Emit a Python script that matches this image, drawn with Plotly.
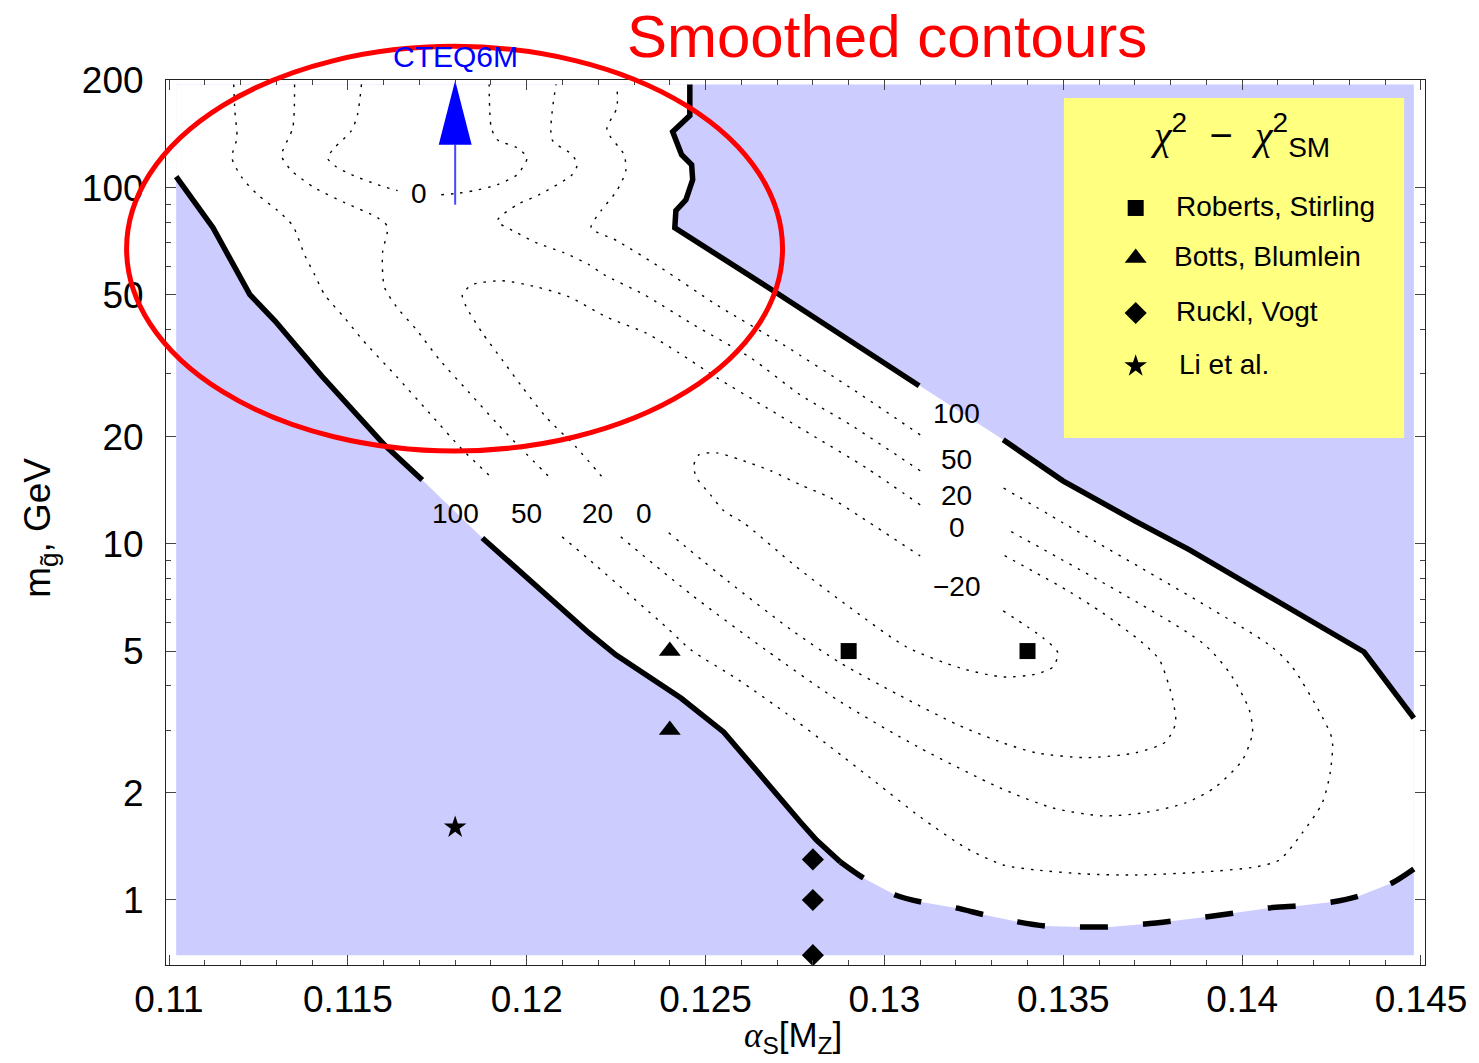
import numpy as np
import plotly.graph_objects as go

# ---------------- data ----------------
# grid domain of the fit (alpha_s, gluino mass in GeV)
alpha_min, alpha_max = 0.1102, 0.1448
m_min, m_max = 0.70, 195.0

# chi^2 - chi^2_SM = 100 boundary, left branch (split at its label)
c100_left_a1 = [0.1102, 0.11123, 0.11226, 0.11296, 0.11427, 0.11602, 0.11708]
c100_left_m1 = [107.4, 77.2, 50.1, 42.3, 29.6, 18.97, 15.12]
c100_left_a2 = [0.11876, 0.12174, 0.12249, 0.12300, 0.12431, 0.12551, 0.12598, 0.12682, 0.12765, 0.12810, 0.12877]
c100_left_m2 = [10.39, 5.62, 4.88, 4.51, 3.69, 2.96, 2.60, 2.08, 1.656, 1.474, 1.278]

# chi^2 - chi^2_SM = 100 boundary, right branch (split at its label)
c100_right_a1 = [0.12456, 0.12456, 0.12408, 0.12433, 0.12461, 0.12464, 0.12445, 0.12417, 0.12414, 0.12475, 0.12551, 0.12698, 0.13097]
c100_right_m1 = [195.0, 159.4, 143.7, 123.8, 116.0, 105.3, 92.5, 86.2, 77.2, 70.5, 63.6, 50.7, 27.8]
c100_right_a2 = [0.13332, 0.13499, 0.13700, 0.13853, 0.14341, 0.1448]
c100_right_m2 = [19.6, 15.03, 11.60, 9.62, 4.97, 3.24]

# lower edge of the scanned region
edge_a = [0.12877, 0.12941, 0.13030, 0.13103, 0.13200, 0.13281, 0.13373, 0.13451, 0.13549, 0.13630,
          0.13728, 0.13806, 0.13898, 0.13979, 0.14076, 0.14154, 0.14252, 0.14327, 0.14419, 0.1448]
edge_m = [1.278, 1.153, 1.033, 0.987, 0.950, 0.908, 0.868, 0.845, 0.840, 0.840,
          0.856, 0.873, 0.896, 0.919, 0.950, 0.962, 0.987, 1.026, 1.116, 1.222]

# level 50
c50_a1 = [0.11181, 0.11184, 0.11190, 0.11176, 0.11204, 0.11248, 0.11304, 0.11346, 0.11379, 0.11407,
          0.11435, 0.11491, 0.11541, 0.11636, 0.11728, 0.11820, 0.11909]
c50_m1 = [195.0, 164.6, 138.2, 121.4, 106.7, 95.6, 86.2, 78.2, 64.8, 57.0,
          50.1, 43.1, 37.4, 29.5, 23.3, 18.4, 15.12]
c50_a2 = [0.12099, 0.12169, 0.12389, 0.12459, 0.12592, 0.12724, 0.12849, 0.12975, 0.13100, 0.13228,
          0.13332, 0.13424, 0.13563, 0.13702, 0.13889, 0.14037, 0.14104, 0.14168, 0.14224, 0.14246,
          0.14252, 0.14224, 0.14140, 0.14076, 0.13499, 0.13332]
c50_m2 = [10.46, 9.13, 5.85, 5.04, 4.15, 3.35, 2.69, 2.145, 1.711, 1.400,
          1.254, 1.214, 1.183, 1.175, 1.198, 1.238, 1.295, 1.542, 1.873, 2.274,
          2.815, 3.266, 4.51, 5.20, 11.46, 14.37]
c50_a3 = [0.13100, 0.12905, 0.12718, 0.12531, 0.12375, 0.12252, 0.12180, 0.12208, 0.12252, 0.12277,
          0.12272, 0.12224, 0.12252, 0.12252]
c50_m3 = [20.24, 27.43, 36.2, 46.9, 59.6, 71.0, 77.2, 86.2, 98.1, 111.6,
          123.8, 145.5, 167.8, 195.0]

# level 20
c20_a1 = [0.11351, 0.11346, 0.11315, 0.11343, 0.11407, 0.11491, 0.11583, 0.11611, 0.11597, 0.11602,
          0.11636, 0.11692, 0.11756, 0.11839, 0.11915, 0.11987, 0.12071]
c20_m1 = [195.0, 147.4, 123.0, 111.6, 100.0, 90.8, 82.4, 77.7, 65.7, 52.7,
          46.3, 39.9, 32.9, 26.6, 21.9, 18.4, 15.12]
c20_a2 = [0.12263, 0.12461, 0.12668, 0.12877, 0.13094, 0.13323, 0.13471, 0.13610, 0.13722, 0.13842,
          0.13926, 0.14001, 0.14029, 0.14020, 0.13965, 0.13889, 0.13345]
c20_m2 = [10.46, 7.19, 5.04, 3.60, 2.69, 2.064, 1.813, 1.722, 1.756, 1.873,
          2.077, 2.474, 2.945, 3.418, 4.34, 5.27, 10.95]
c20_a3 = [0.13100, 0.12905, 0.12765, 0.12626, 0.12467, 0.12328, 0.12216, 0.12174, 0.12104, 0.12026,
          0.11973, 0.11918, 0.11973, 0.12035, 0.12127, 0.12141, 0.12127, 0.12071, 0.12082]
c20_m3 = [16.04, 21.6, 26.2, 33.3, 41.2, 50.1, 57.0, 60.8, 65.7, 70.1,
          74.7, 80.8, 89.6, 95.6, 108.8, 116.0, 123.8, 136.4, 195.0]

# level 0, closed valley contour
c0_a1 = [0.12397, 0.12565, 0.12740, 0.12877, 0.13039, 0.13206, 0.13332, 0.13424, 0.13563, 0.13702,
         0.13786, 0.13814, 0.13806, 0.13769, 0.13722, 0.13610, 0.13518, 0.13424, 0.13332]
c0_m1 = [10.74, 7.82, 5.73, 4.63, 3.77, 3.10, 2.76, 2.59, 2.51, 2.59,
         2.78, 3.14, 3.65, 4.72, 5.27, 6.40, 7.33, 8.29, 9.31]
c0_a2 = [0.13100, 0.12949, 0.12810, 0.12671, 0.12531, 0.12425, 0.12333, 0.12222, 0.12118, 0.12026,
         0.11931, 0.11848, 0.11820, 0.11831, 0.11876, 0.11931, 0.11987, 0.12054, 0.12138, 0.12222]
c0_m2 = [12.87, 16.35, 19.86, 24.1, 29.3, 34.4, 39.1, 43.4, 49.4, 52.7,
         54.8, 53.4, 50.1, 46.3, 39.1, 32.9, 27.6, 22.7, 18.7, 14.94]

# level 0, heavy-gluino pocket
c0top_a1 = [0.11538, 0.11527, 0.11510, 0.11463, 0.11443, 0.11463, 0.11510, 0.11583, 0.11639]
c0top_m1 = [195.0, 160.4, 144.6, 129.5, 121.4, 115.3, 108.8, 102.0, 98.1]
c0top_a2 = [0.11761, 0.11798, 0.11853, 0.11918, 0.11973, 0.12001, 0.11973, 0.11918, 0.11901, 0.11895]
c0top_m2 = [95.6, 96.2, 98.1, 102.0, 108.8, 121.4, 129.5, 136.4, 147.4, 195.0]

# level -20, closed
cm20_a = [0.13332, 0.13443, 0.13485, 0.13471, 0.13424, 0.13332, 0.13212, 0.13061, 0.12905, 0.12754,
          0.12606, 0.12551, 0.12514, 0.12475, 0.12467, 0.12481, 0.12531, 0.12598, 0.12682, 0.12765,
          0.12849, 0.12933, 0.13100]
cm20_m = [6.48, 5.45, 4.94, 4.51, 4.31, 4.23, 4.48, 5.14, 6.61, 8.62,
          11.46, 12.38, 13.73, 15.32, 16.56, 17.78, 18.01, 17.22, 16.04, 14.65,
          13.47, 11.91, 9.25]

# contour labels: text, alpha, mass
label_text = ["100", "50", "20", "0", "100", "50", "20", "0", "\u221220", "0"]
label_a = [0.11802, 0.12000, 0.12199, 0.12328, 0.13202, 0.13202, 0.13202, 0.13202, 0.13202, 0.11700]
label_m = [12.18, 12.18, 12.18, 12.18, 23.3, 17.2, 13.7, 11.09, 7.57, 96.2]

# earlier determinations
roberts_a, roberts_m = [0.129, 0.134], [5.0, 5.0]
botts_a, botts_m = [0.124, 0.124], [5.0, 3.0]
ruckl_a, ruckl_m = [0.128, 0.128, 0.128], [1.3, 1.0, 0.7]
li_a, li_m = [0.118], [1.6]

# CTEQ6M marker arrow
cteq_a, cteq_m_from, cteq_m_to = 0.118, 89.6, 200.0

x_tickvals = [0.11, 0.115, 0.12, 0.125, 0.13, 0.135, 0.14, 0.145]
x_ticktext = ["0.11", "0.115", "0.12", "0.125", "0.13", "0.135", "0.14", "0.145"]
y_tickvals = [1, 2, 5, 10, 20, 50, 100, 200]
y_ticktext = ["1", "2", "5", "10", "20", "50", "100", "200"]
y_minorvals = [3, 4, 6, 7, 8, 9, 30, 40, 60, 70, 80, 90]

# ---------------- style ----------------
FONT = "Liberation Sans, Arial, Helvetica, sans-serif"
SERIF = "'Liberation Serif', 'Times New Roman', serif"
PURPLE = "#CCCCFF"
YELLOW = "#FFFF80"
DOTTED = "2.5px,7px"
HEAD_LEN_DEC = 0.18
HEAD_HALF_W = 0.00046

fig = go.Figure()


def line(a, m, width=1.4, dash=DOTTED, shape="spline", color="black", smoothing=0.7):
    fig.add_trace(go.Scatter(
        x=a, y=m, mode="lines",
        line=dict(color=color, width=width, dash=dash, shape=shape,
                  smoothing=smoothing if shape == "spline" else None),
        hoverinfo="skip", showlegend=False))


# excluded area covers the whole scanned domain ...
fig.add_trace(go.Scatter(
    x=[alpha_min, alpha_max, alpha_max, alpha_min, alpha_min],
    y=[m_min, m_min, m_max, m_max, m_min],
    mode="lines", fill="toself", fillcolor=PURPLE, line=dict(width=0),
    hoverinfo="skip", showlegend=False))

# ... and the allowed band (inside the 100 contour) is white
allowed_a = ([alpha_min] + c100_right_a1 + c100_right_a2 + edge_a[::-1]
             + c100_left_a2[::-1] + c100_left_a1[::-1] + [alpha_min])
allowed_m = ([m_max] + c100_right_m1 + c100_right_m2 + edge_m[::-1]
             + c100_left_m2[::-1] + c100_left_m1[::-1] + [m_max])
fig.add_trace(go.Scatter(
    x=allowed_a, y=allowed_m, mode="lines", fill="toself", fillcolor="white",
    line=dict(width=0), hoverinfo="skip", showlegend=False))

# dotted contour levels
for a, m in [(c50_a1, c50_m1), (c50_a2, c50_m2), (c50_a3, c50_m3),
             (c20_a1, c20_m1), (c20_a2, c20_m2), (c20_a3, c20_m3),
             (c0_a1, c0_m1), (c0_a2, c0_m2),
             (c0top_a1, c0top_m1), (c0top_a2, c0top_m2),
             (cm20_a, cm20_m)]:
    line(a, m)

# thick 100 boundary
for a, m in [(c100_left_a1, c100_left_m1), (c100_left_a2, c100_left_m2),
             (c100_right_a1, c100_right_m1), (c100_right_a2, c100_right_m2)]:
    line(a, m, width=5.5, dash="solid", shape="linear")

# dashed edge of the scan
line(edge_a, edge_m, width=5.5, dash="28px,35px", shape="spline", smoothing=0.8)

# measurements
mk = dict(color="black", line=dict(width=0))
fig.add_trace(go.Scatter(x=roberts_a, y=roberts_m, mode="markers", cliponaxis=False,
                         marker=dict(symbol="square", size=16, **mk), showlegend=False))
fig.add_trace(go.Scatter(x=botts_a, y=botts_m, mode="markers", cliponaxis=False,
                         marker=dict(symbol="triangle-up", size=19, **mk), showlegend=False))
fig.add_trace(go.Scatter(x=ruckl_a, y=ruckl_m, mode="markers", cliponaxis=False,
                         marker=dict(symbol="diamond", size=17, **mk), showlegend=False))
fig.add_trace(go.Scatter(x=li_a, y=li_m, mode="markers", cliponaxis=False,
                         marker=dict(symbol="star", size=17, **mk), showlegend=False))

# CTEQ6M arrow
head_base = cteq_m_to / 10 ** HEAD_LEN_DEC
fig.add_trace(go.Scatter(x=[cteq_a, cteq_a], y=[cteq_m_from, head_base], mode="lines",
                         line=dict(color="#4747FF", width=2), hoverinfo="skip", showlegend=False))
fig.add_trace(go.Scatter(x=[cteq_a - HEAD_HALF_W, cteq_a + HEAD_HALF_W, cteq_a, cteq_a - HEAD_HALF_W],
                         y=[head_base, head_base, cteq_m_to, head_base], mode="lines",
                         fill="toself", fillcolor="#0000FF", line=dict(width=0, color="#0000FF"),
                         cliponaxis=False, hoverinfo="skip", showlegend=False))

# legend panel on an overlay with unit coordinates
LX0, LX1, LY0, LY1 = 0.7132, 0.9834, 0.5955, 0.9797
fig.add_trace(go.Scatter(x=[LX0, LX1, LX1, LX0, LX0], y=[LY0, LY0, LY1, LY1, LY0],
                         xaxis="x2", yaxis="y2", mode="lines", fill="toself",
                         fillcolor=YELLOW, line=dict(width=0), hoverinfo="skip", showlegend=False))
leg_names = ["Roberts, Stirling", "Botts, Blumlein", "Ruckl, Vogt", "Li et al."]
leg_symbols = ["square", "triangle-up", "diamond", "star"]
leg_sizes = [16, 19, 17, 17]
leg_y = [0.8554, 0.7989, 0.7367, 0.6768]
leg_text_x = [0.8003, 0.7987, 0.8003, 0.8027]
for sym, sz, yy in zip(leg_symbols, leg_sizes, leg_y):
    fig.add_trace(go.Scatter(x=[0.7702], y=[yy], xaxis="x2", yaxis="y2", mode="markers",
                             marker=dict(symbol=sym, size=sz, **mk), hoverinfo="skip",
                             showlegend=False))

annotations = []
for name, xx, yy in zip(leg_names, leg_text_x, leg_y):
    annotations.append(dict(text=name, x=xx, y=yy + 0.002, xref="paper", yref="paper",
                            xanchor="left", yanchor="middle", showarrow=False,
                            font=dict(family=FONT, size=28, color="black")))

chi = '<span style="font-family:%s"><i>\u03c7</i></span>' % SERIF
annotations.append(dict(
    text=chi + "<sup>2</sup>\u00a0\u00a0\u2212\u00a0\u00a0" + chi + "<sup>2</sup><sub>SM</sub>",
    x=0.8534, y=0.9379, xref="paper", yref="paper", xanchor="center", yanchor="middle",
    showarrow=False, font=dict(family=FONT, size=40, color="black")))

# contour level labels
for t, a, m in zip(label_text, label_a, label_m):
    annotations.append(dict(text=t, x=a, y=float(np.log10(m)), xref="x", yref="y",
                            xanchor="center", yanchor="middle", showarrow=False,
                            font=dict(family=FONT, size=28, color="black")))

annotations.append(dict(text="CTEQ6M", x=cteq_a, y=1.026, xref="x", yref="paper",
                        xanchor="center", yanchor="middle", showarrow=False,
                        font=dict(family=FONT, size=30, color="#0000FF")))
annotations.append(dict(text="Smoothed contours", x=0.5729, y=1.0495, xref="paper", yref="paper",
                        xanchor="center", yanchor="middle", showarrow=False,
                        font=dict(family=FONT, size=60, color="#FF0000")))

# axis titles
alpha_sym = '<span style="font-family:%s"><i>\u03b1</i></span>' % SERIF
annotations.append(dict(text=alpha_sym + "<sub>S</sub>[M<sub>Z</sub>]", x=0.4984, y=-0.0815,
                        xref="paper", yref="paper", xanchor="center", yanchor="middle",
                        showarrow=False, font=dict(family=FONT, size=35, color="black")))
annotations.append(dict(text="m<sub>g\u0303</sub>, GeV", x=-0.0998, y=0.4944,
                        xref="paper", yref="paper", xanchor="center", yanchor="middle",
                        textangle=-90, showarrow=False,
                        font=dict(family=FONT, size=37, color="black")))

axis_common = dict(showline=True, linecolor="#222222", linewidth=1, mirror="allticks",
                   ticks="inside", ticklen=10, tickwidth=1, tickcolor="#444444",
                   showgrid=False, zeroline=False,
                   tickfont=dict(family=FONT, size=37, color="black"))

fig.update_layout(
    width=1479, height=1063,
    margin=dict(l=166, r=51, t=80, b=98),
    paper_bgcolor="white", plot_bgcolor="white",
    showlegend=False,
    xaxis=dict(range=[0.109916, 0.145112], tickmode="array", tickvals=x_tickvals,
               ticktext=x_ticktext, ticklabelstandoff=2,
               minor=dict(dtick=0.001, tick0=0.11, ticks="inside", ticklen=5,
                          tickcolor="#444444", tickwidth=1),
               **axis_common),
    yaxis=dict(type="log", range=[-0.18258, 2.3025], tickmode="array", tickvals=y_tickvals,
               ticktext=y_ticktext, ticklabelstandoff=14,
               minor=dict(tickmode="array", tickvals=y_minorvals, ticks="inside", ticklen=5,
                          tickcolor="#444444", tickwidth=1),
               **axis_common),
    xaxis2=dict(overlaying="x", range=[0, 1], visible=False, anchor="y2"),
    yaxis2=dict(overlaying="y", range=[0, 1], visible=False, anchor="x2"),
    annotations=annotations,
    shapes=[dict(type="circle", xref="paper", yref="paper",
                 x0=-0.0313, x1=0.4897, y0=0.5808, y1=1.0380,
                 line=dict(color="#FF0000", width=5), layer="above")],
)

fig.write_html("out.html")
